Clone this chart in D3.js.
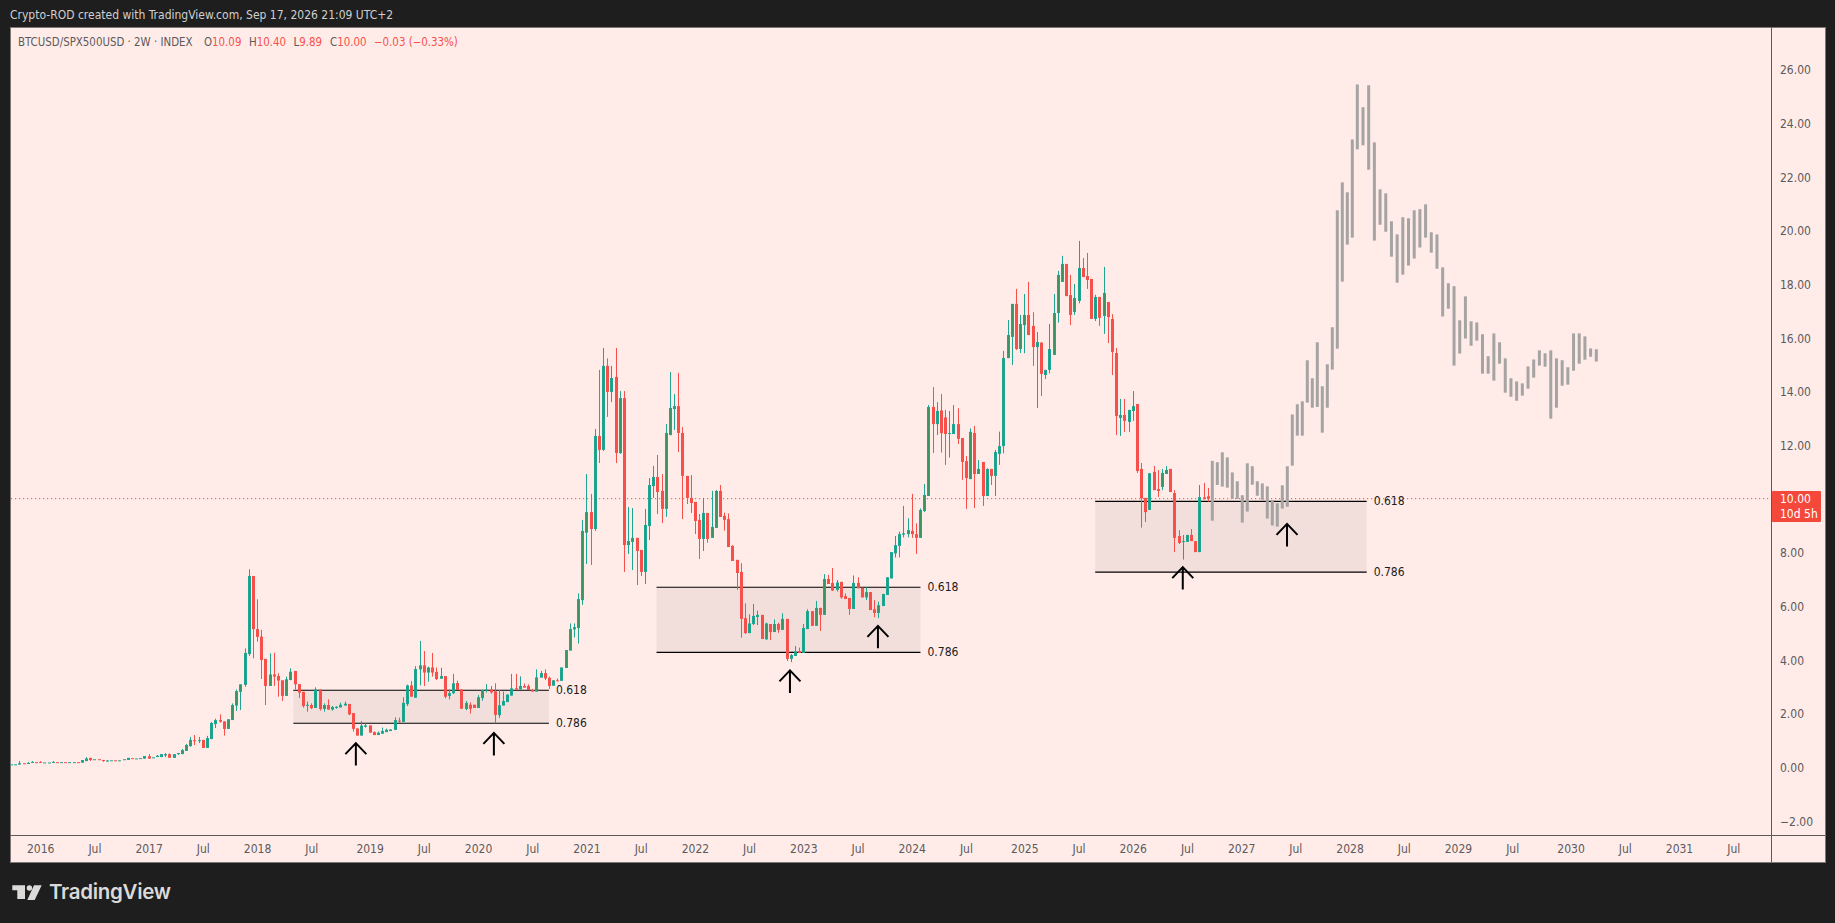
<!DOCTYPE html>
<html><head><meta charset="utf-8">
<script src="https://cdnjs.cloudflare.com/ajax/libs/d3/7.8.5/d3.min.js"></script>
<style>
html,body{margin:0;padding:0;background:#1e1e1e;overflow:hidden}
svg{display:block}
text{font-family:"DejaVu Sans Condensed","DejaVu Sans",sans-serif;font-size:12px}
</style></head><body>
<svg id="c" width="1835" height="923"></svg>
<script>
// ---- candle data, BTCUSD/SPX500USD, 2-week bars, oldest first ----
const opens=[
.10,.10,.09,.14,.14,.17,.18,.19,.17,.17,
.16,.18,.17,.18,.17,.17,.18,.16,.22,.34,
.28,.29,.26,.21,.25,.25,.24,.28,.26,.33,
.32,.32,.31,.40,.36,.37,.37,.43,.48,.34,
.48,.48,.60,.78,1.00,.99,1.01,.71,1.04,1.60,
1.75,1.70,1.42,1.75,2.29,2.80,3.06,4.21,7.12,5.14,
4.86,4.03,3.02,3.45,3.39,3.23,2.65,3.24,3.58,3.09,
2.80,2.30,2.31,2.20,2.89,2.16,2.31,2.14,2.20,2.22,
2.29,2.35,2.01,1.44,1.17,1.50,1.55,1.30,1.19,1.24,
1.30,1.34,1.38,1.73,1.68,2.34,3.04,2.58,3.64,3.79,
3.52,3.71,3.54,3.29,3.39,2.65,2.75,3.13,2.89,2.16,
2.32,2.32,2.20,2.57,2.85,2.89,2.82,1.93,2.29,2.42,
2.66,2.94,2.89,3.02,3.02,2.87,2.81,3.33,3.50,3.32,
3.03,3.23,3.21,3.69,4.34,5.13,5.18,6.22,8.73,9.50,
8.87,12.34,11.82,14.95,13.98,14.54,11.70,13.75,8.27,8.39,
8.54,8.09,7.27,8.98,10.47,10.81,10.29,9.62,12.37,13.34,
13.45,12.45,10.85,10.03,9.88,9.21,8.50,9.47,8.54,8.91,
10.29,9.36,9.24,8.24,7.72,7.27,5.55,4.99,5.33,5.59,
5.67,4.76,5.33,5.03,5.33,5.11,5.52,4.03,4.14,4.32,
4.25,5.14,5.81,5.26,5.93,5.67,7.01,6.86,6.60,6.90,
6.37,6.30,5.89,6.86,6.68,6.32,6.52,5.88,5.74,6.00,
6.41,7.03,7.96,8.24,8.66,8.68,8.80,8.68,8.54,9.54,
10.10,13.42,12.78,13.29,13.03,12.42,12.41,12.78,12.26,11.40,
10.73,12.45,10.92,11.37,10.10,11.11,10.85,11.67,11.96,15.24,
16.03,17.26,15.58,16.47,16.85,16.44,15.65,15.82,14.61,14.80,
15.36,16.92,18.08,18.75,17.59,16.96,17.37,18.60,18.30,18.19,
16.70,17.52,16.81,17.33,16.70,15.43,13.01,13.12,12.86,13.27,
13.53,11.11,10.03,9.58,11.00,10.36,10.44,10.92,11.11,10.21,
8.61,8.39,8.39,8.65,8.42,8.01,10.05,10.09];
const closes=[
.10,.10,.14,.13,.15,.19,.17,.16,.17,.17,
.19,.17,.18,.17,.18,.18,.17,.26,.32,.26,
.29,.28,.24,.24,.25,.24,.25,.29,.34,.32,
.32,.33,.41,.31,.36,.42,.48,.48,.34,.48,
.52,.63,.82,1.01,.99,1.00,.71,1.08,1.64,1.75,
1.69,1.42,1.78,2.31,2.83,3.08,4.25,7.12,5.14,4.85,
3.99,3.02,3.45,3.37,3.22,2.65,3.27,3.55,3.08,2.77,
2.27,2.32,2.19,2.89,2.16,2.31,2.14,2.24,2.24,2.32,
2.36,1.96,1.42,1.17,1.54,1.55,1.28,1.19,1.28,1.34,
1.39,1.40,1.75,1.70,2.39,3.04,2.62,3.65,3.79,3.52,
3.71,3.52,3.28,3.39,2.62,2.75,3.12,2.87,2.17,2.39,
2.17,2.20,2.60,2.86,2.89,2.78,1.94,2.30,2.46,2.70,
2.93,2.89,3.02,2.96,2.87,2.81,3.34,3.50,3.30,3.02,
3.23,3.22,3.71,4.36,5.14,5.21,6.26,8.80,9.50,8.87,
12.34,11.82,14.95,13.98,14.50,11.70,13.75,8.27,8.42,8.54,
8.05,7.27,9.02,10.51,10.81,10.25,9.62,12.45,13.38,13.45,
12.45,10.85,10.03,9.84,9.17,8.50,9.47,8.50,8.95,10.29,
9.32,9.21,8.20,7.68,7.23,5.52,4.99,5.35,5.63,5.67,
4.77,5.35,5.03,5.33,5.11,5.52,4.03,4.17,4.31,4.25,
5.18,5.81,5.26,5.93,5.67,7.01,6.82,6.58,6.88,6.32,
6.26,5.89,6.86,6.66,6.32,6.52,5.85,5.74,6.03,6.45,
7.07,8.01,8.27,8.68,8.71,8.83,8.68,8.54,9.58,10.14,
13.42,12.78,13.27,12.44,12.41,12.45,12.78,12.23,11.37,10.77,
12.49,10.92,11.11,10.10,11.11,10.85,11.74,11.96,15.24,16.10,
17.26,15.58,16.51,16.85,16.10,15.65,15.84,14.65,14.80,15.58,
16.92,18.34,18.75,17.55,16.85,17.48,18.60,18.26,18.15,16.70,
17.52,16.74,17.67,16.77,15.47,13.08,13.12,12.90,13.31,13.45,
11.03,10.01,9.50,10.95,10.32,10.29,10.96,11.07,10.25,8.54,
8.35,8.42,8.65,8.42,8.01,10.06,9.98,10.00];
const highs=[
.10,.10,.22,.14,.19,.22,.18,.22,.17,.17,
.22,.18,.18,.18,.18,.18,.18,.26,.37,.34,
.29,.29,.26,.26,.25,.25,.25,.29,.34,.33,
.32,.33,.41,.48,.36,.45,.48,.52,.51,.48,
.52,.67,.86,1.12,1.19,1.12,1.01,1.16,1.68,1.80,
1.96,1.70,1.78,2.37,2.89,3.08,4.42,7.37,7.12,6.25,
5.11,4.03,4.24,4.26,3.49,3.23,3.37,3.68,3.58,3.09,
2.80,2.44,2.37,2.97,2.89,2.37,2.52,2.27,2.27,2.40,
2.44,2.35,2.01,1.44,1.71,1.62,1.55,1.33,1.32,1.47,
1.43,1.40,1.85,1.84,2.60,3.07,3.21,3.76,4.70,4.32,
3.74,4.25,3.71,3.70,3.39,2.89,3.47,3.22,2.89,2.46,
2.41,2.32,2.68,2.88,3.09,3.02,3.12,2.87,2.81,2.71,
3.47,3.47,3.38,3.11,3.08,2.91,3.64,3.58,3.64,3.37,
3.24,3.30,3.71,4.36,5.35,5.35,6.47,9.21,10.92,10.18,
12.60,14.80,15.62,15.23,14.95,15.62,14.01,14.01,9.69,9.65,
8.54,8.09,9.62,10.77,11.22,11.63,10.92,12.78,14.72,13.90,
14.69,12.67,10.85,10.88,9.88,9.43,10.03,9.47,10.29,10.32,
10.51,9.48,9.45,8.27,7.72,7.59,6.10,5.69,6.08,5.83,
5.67,5.38,5.33,5.50,5.38,5.73,5.52,4.21,4.51,4.45,
5.33,5.88,5.81,6.19,5.93,7.19,7.16,7.42,6.97,6.90,
6.47,6.30,7.14,7.07,6.68,6.70,6.52,6.22,6.16,6.45,
7.08,8.01,8.61,8.77,9.73,9.27,10.18,9.08,9.64,10.55,
13.49,14.16,13.60,13.90,13.31,13.27,13.49,13.37,12.26,11.59,
12.62,12.71,11.44,11.37,11.13,11.11,11.82,12.50,15.51,16.66,
17.26,17.82,16.85,17.63,18.08,16.95,16.21,15.82,14.80,16.51,
17.63,18.49,19.05,18.75,18.34,18.00,19.61,18.97,19.16,18.19,
17.60,17.52,18.64,17.33,16.88,15.62,13.72,13.72,13.31,14.01,
13.53,11.33,10.03,10.95,11.22,11.07,11.11,11.22,11.11,10.32,
8.83,8.65,8.65,8.87,8.42,10.51,10.59,10.40];
const lows=[
.10,.10,.09,.13,.14,.17,.17,.16,.17,.17,
.16,.17,.17,.17,.17,.17,.17,.16,.22,.22,
.28,.28,.19,.21,.25,.24,.24,.28,.26,.32,
.32,.32,.31,.31,.36,.37,.37,.37,.34,.34,
.45,.48,.60,.75,.82,.89,.71,.71,1.04,1.45,
1.65,1.17,1.42,1.75,2.09,2.12,2.99,4.14,4.05,4.67,
3.28,2.31,3.02,3.02,2.62,2.46,2.65,3.24,2.89,2.57,
2.21,2.06,2.16,2.20,2.10,2.06,2.14,2.10,2.17,2.22,
2.29,1.93,1.32,1.17,1.17,1.47,1.28,1.19,1.19,1.24,
1.30,1.34,1.38,1.65,1.68,2.27,2.62,2.58,3.04,3.02,
3.18,3.37,3.24,3.29,2.56,2.52,2.72,2.87,2.17,2.12,
1.99,2.20,2.20,2.47,2.78,2.73,1.63,1.83,2.29,2.42,
2.66,2.89,2.89,2.96,2.87,2.81,2.81,3.33,3.24,2.91,
3.03,3.20,3.21,3.69,4.34,4.83,4.60,6.04,7.57,7.53,
8.80,11.33,11.78,13.05,13.60,11.33,11.67,7.27,7.94,7.34,
6.78,7.12,6.82,8.46,10.03,9.43,9.09,9.32,12.37,12.56,
11.74,9.24,9.80,9.47,8.68,7.75,8.05,8.36,8.54,8.91,
9.32,8.81,8.20,7.68,6.60,4.82,4.96,4.99,5.29,5.29,
4.77,4.73,4.73,5.03,5.00,5.11,3.95,3.91,4.14,4.25,
4.25,5.14,5.26,5.26,5.07,5.67,6.82,6.56,6.54,6.27,
6.26,5.67,5.89,6.66,6.32,6.22,5.85,5.58,5.55,6.00,
6.41,7.03,7.81,7.81,8.56,8.56,8.54,7.94,8.54,9.50,
10.10,11.70,12.37,11.72,11.26,11.53,12.41,12.04,10.70,9.62,
10.73,9.65,10.92,9.73,10.10,10.51,10.10,11.26,11.69,15.24,
14.98,15.54,15.43,15.42,16.10,14.95,13.38,13.83,14.46,14.67,
15.36,16.56,18.08,17.55,16.47,16.85,17.28,18.26,17.82,16.70,
16.62,16.44,16.14,15.80,14.61,12.37,12.34,12.49,12.49,12.90,
10.96,8.92,9.13,9.58,10.32,10.06,10.32,10.92,10.25,8.01,
8.31,7.73,8.39,8.42,8.01,8.01,9.98,9.89];

// ---- grey projected pattern ----
const greyHighs=[11.41,11.36,11.73,11.54,10.98,10.65,10.13,11.32,11.21,10.65,10.57,10.46,9.95,9.83,10.50,11.21,13.14,13.52,13.63,15.16,14.49,15.83,14.19,15.01,16.39,20.75,21.79,21.42,23.39,25.44,24.59,25.41,23.28,21.53,21.38,20.34,19.85,20.49,20.45,20.75,20.79,20.97,19.93,19.85,18.62,18.03,17.92,16.65,17.54,16.61,16.57,16.13,15.31,16.16,15.83,15.23,14.49,14.37,14.30,14.93,15.19,15.53,15.42,15.53,15.23,15.16,14.90,16.16,16.16,16.05,15.60,15.57];
const greyLows=[9.18,10.51,10.45,10.41,9.99,9.99,9.11,9.52,10.52,10.11,9.96,9.26,9.00,8.96,9.63,9.70,11.23,12.35,12.35,13.58,13.39,13.42,12.46,13.39,14.81,15.59,18.09,19.47,19.73,23.02,23.17,22.26,19.62,20.21,19.95,19.02,18.05,18.35,18.69,18.95,19.36,19.73,19.17,18.57,16.79,17.08,14.96,15.41,15.97,15.70,15.89,14.66,14.66,14.40,15.03,13.95,13.80,13.65,13.84,14.10,14.51,14.96,14.92,12.98,13.39,14.21,14.25,14.77,15.03,15.18,15.29,15.11];

// ---- axes ----
const priceTicks=[-2,0,2,4,6,8,12,14,16,18,20,22,24,26];
const timeTickBars=[7,20,33,46,59,72,86,99,112,125,138,151,164,177,190,203,216,229,243,256,269,282,295,308,321,334,347,360,374,387,400,413];
const timeTickLabels=["2016","Jul","2017","Jul","2018","Jul","2019","Jul","2020","Jul","2021","Jul","2022","Jul","2023","Jul","2024","Jul","2025","Jul","2026","Jul","2027","Jul","2028","Jul","2029","Jul","2030","Jul","2031","Jul"];

// ---- drawn levels and arrows: bar position + price ----
const boxLeft=[67.7,154.8,260];
const boxRight=[129,218.1,325.1];
const level618=[2.86,6.70,9.90];
const level786=[1.63,4.27,7.26];
const arrowBars=[82.7,115.8,186.8,207.9,281,306];
const arrowPrices=[.89,1.27,3.60,5.26,7.45,9.06];
const lastPrice=10.00;

const UP="#1fa690",UPCORE="#3c9463",DOWN="#f7504a",GREY="#a6a4a3",
      BG="#ffece9",PANEL="#1e1e1e",AXC="#5e5a5a",TXT="#5c5a5c",BOX="#f2dfdc";

const svg=d3.select("#c");
const L=10,T=27,R=1825,B=862,AX=1771,AY=835;
svg.append("rect").attr("width",1835).attr("height",923).attr("fill",PANEL);
svg.append("rect").attr("x",L+.5).attr("y",T+.5).attr("width",R-L).attr("height",B-T)
  .attr("fill",BG).attr("stroke","#7d7877");

const x=d3.scaleLinear().domain([0,100]).range([11,428]);
const y=d3.scaleLinear().domain([-2,26]).range([820.66,69.4]);
const greyX=d3.scaleLinear().domain([0,29,71]).range([1212.3,1357.3,1596.3]);

// header
svg.append("text").attr("x",10).attr("y",19).attr("fill","#d0cfcf").text("Crypto-ROD created with TradingView.com, Sep 17, 2026 21:09 UTC+2");
const hdr=svg.append("g").attr("transform","translate(0,46)");
hdr.append("text").attr("x",18).attr("fill",TXT).style("font-size","11.4px").text("BTCUSD/SPX500USD · 2W · INDEX");
const ohlcLabels=["O","H","L","C"],ohlcVals=["10.09","10.40","9.89","10.00"],ohlcX=[204,249,293.5,330];
ohlcLabels.forEach((k,i)=>{
  const t=hdr.append("text").attr("x",ohlcX[i]).attr("fill",TXT).style("font-size","11.4px").text(k);
  t.append("tspan").attr("fill",DOWN).text(ohlcVals[i]);
});
hdr.append("text").attr("x",374).attr("fill",DOWN).style("font-size","11.4px").text("−0.03 (−0.33%)");

// boxes
const g=svg.append("g");
const bi=d3.range(boxLeft.length);
g.selectAll("rect.box").data(bi).join("rect").attr("class","box")
 .attr("x",i=>x(boxLeft[i])).attr("width",i=>x(boxRight[i])-x(boxLeft[i]))
 .attr("y",i=>y(level618[i])).attr("height",i=>y(level786[i])-y(level618[i])).attr("fill",BOX);

// price line
g.append("line").attr("x1",L+1).attr("x2",AX).attr("y1",y(lastPrice)).attr("y2",y(lastPrice))
 .attr("stroke","#f4483f").attr("stroke-width",1).attr("stroke-dasharray","1.2 2.8");

[level618,level786].forEach((lv,k)=>{
  g.selectAll("line.l"+k).data(bi).join("line").attr("class","l"+k)
   .attr("x1",i=>x(boxLeft[i])).attr("x2",i=>x(boxRight[i]))
   .attr("y1",i=>y(lv[i])).attr("y2",i=>y(lv[i])).attr("stroke","#000").attr("stroke-width",1.2);
  g.selectAll("text.t"+k).data(bi).join("text").attr("class","t"+k)
   .attr("x",i=>x(boxRight[i])+7).attr("y",i=>y(lv[i])+4).attr("fill","#1b1b1b")
   .text(k?"0.786":"0.618");
});

// candles
const bars=d3.range(closes.length);
const col=i=>closes[i]>=opens[i];
const cg=svg.append("g");
cg.selectAll("line.w").data(bars).join("line").attr("class","w")
  .attr("x1",i=>Math.round(x(i))+.5).attr("x2",i=>Math.round(x(i))+.5)
  .attr("y1",i=>y(highs[i])).attr("y2",i=>y(lows[i]))
  .attr("stroke",i=>col(i)?UP:DOWN).attr("stroke-width",1);
const bh=i=>Math.max(1,Math.abs(y(opens[i])-y(closes[i])));
cg.selectAll("rect.b").data(bars).join("rect").attr("class","b")
  .attr("x",i=>Math.round(x(i))-1).attr("width",3)
  .attr("y",i=>Math.min(y(opens[i]),y(closes[i]))).attr("height",bh)
  .attr("fill",i=>col(i)?UP:DOWN);
cg.selectAll("rect.core").data(bars.filter(i=>col(i)&&bh(i)>4)).join("rect").attr("class","core")
  .attr("x",i=>Math.round(x(i))).attr("width",1)
  .attr("y",i=>Math.min(y(opens[i]),y(closes[i]))+1).attr("height",i=>bh(i)-2)
  .attr("fill",UPCORE);

// grey bars
svg.append("g").selectAll("rect").data(d3.range(greyHighs.length)).join("rect")
  .attr("x",i=>greyX(i)-1.5).attr("width",3)
  .attr("y",i=>y(greyHighs[i])).attr("height",i=>y(greyLows[i])-y(greyHighs[i]))
  .attr("fill",GREY);

// arrows
const ag=svg.append("g").attr("fill","none").attr("stroke","#000").attr("stroke-width",2);
ag.selectAll("path").data(d3.range(arrowBars.length)).join("path")
  .attr("d",i=>{const a=x(arrowBars[i]),b=y(arrowPrices[i]);
    return `M${a},${b+22.5}V${b}M${a-10.5},${b+11}L${a},${b}L${a+10.5},${b+11}`;});

// axis lines
svg.append("line").attr("x1",AX+.5).attr("x2",AX+.5).attr("y1",T).attr("y2",B).attr("stroke",AXC);
svg.append("line").attr("x1",L).attr("x2",R).attr("y1",AY+.5).attr("y2",AY+.5).attr("stroke",AXC);

// axes
const ya=d3.axisRight(y).tickValues(priceTicks).tickSize(0).tickPadding(0)
  .tickFormat(v=>(v<0?"−":"")+Math.abs(v).toFixed(2));
const yg=svg.append("g").attr("transform",`translate(1780,0.5)`).call(ya);
yg.select(".domain").remove();
yg.selectAll("text").attr("fill",TXT).style("font-size","12px");
const xa=d3.axisBottom(x).tickValues(timeTickBars).tickSize(0).tickPadding(0)
  .tickFormat((d,i)=>timeTickLabels[i]);
const xg=svg.append("g").attr("transform",`translate(0,844)`).call(xa);
xg.select(".domain").remove();
xg.selectAll("text").attr("fill",TXT).style("font-size","12px");

// last price tag
svg.append("rect").attr("x",1772).attr("y",491).attr("width",49).attr("height",31).attr("rx",1).attr("fill","#f4483a");
svg.append("text").attr("x",1780).attr("y",y(lastPrice)+4).attr("fill","#fff").text(lastPrice.toFixed(2));
svg.append("text").attr("x",1780).attr("y",518).attr("fill","#fff").text("10d 5h");

// brand
svg.append("path").attr("fill","#dcd9d9")
  .attr("d","M12.3,885.3H25V899H17.3V890.3H12.3ZM34,885.3H41.7L34.7,900H27.3Z");
svg.append("circle").attr("cx",29.4).attr("cy",888).attr("r",2.7).attr("fill","#dcd9d9");
svg.append("text").attr("x",49).attr("y",899).attr("fill","#dcd9d9")
  .style("font-family","Inter,Lato,sans-serif").style("font-size","20.5px").style("font-weight",600).style("letter-spacing","-.3px").text("TradingView");
</script>
</body></html>
